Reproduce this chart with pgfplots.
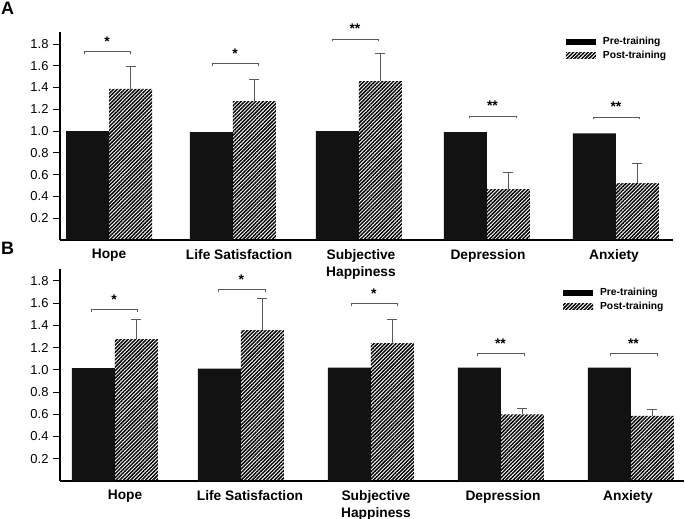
\documentclass[border=0pt]{standalone}
\usepackage{pgfplots}
\pgfplotsset{compat=1.18}
\usepackage{fontspec}
\setmainfont{Liberation Sans}
\usetikzlibrary{patterns.meta}
\definecolor{eb}{gray}{0.35}
\tikzset{hatch/.style={pattern={Lines[angle=45,distance=2.6bp,line width=1.45bp]}, pattern color=black}}
\pgfplotsset{
  panel/.style={
    scale only axis, clip=false,
    axis lines=left, axis line style={-, line width=1.2bp, black},
    ybar=0pt, bar width=43bp, ymin=0,
    ytick={0.2,0.4,0.6,0.8,1.0,1.2,1.4,1.6,1.8},
    /pgf/number format/assume math mode=true,
    yticklabel style={font=\fontsize{13}{15}\selectfont, xshift=-1bp,
      /pgf/number format/.cd, fixed, fixed zerofill, precision=1},
    tick align=outside, major tick length=7bp,
    ytick style={black, line width=0.8bp},
    xtick style={draw=none},
    xticklabel style={font=\fontsize{13.8}{17}\selectfont\bfseries, align=center, yshift=1bp},
    xticklabels={Hope, Life Satisfaction, Subjective\\Happiness, Depression, Anxiety},
    legend style={draw=none, fill=none, font=\fontsize{10.3}{12}\selectfont\bfseries,
      anchor=north west, inner sep=0pt, row sep=1bp, legend cell align=left},
  },
  prebar/.style={fill=black!93, draw=none,
    legend image code/.code={\fill[black] (0bp,-3bp) rectangle (30bp,3bp); \path (35bp,0bp);}},
  postbar/.style={hatch, draw=none,
    legend image code/.code={\fill[hatch] (0bp,-3bp) rectangle (30bp,3bp); \path (35bp,0bp);},
    error bars/.cd, y dir=plus, y explicit,
    error bar style={draw=eb, line width=0.9bp},
    error mark=-,
    error mark options={draw=eb, line width=0.9bp, mark size=5bp, rotate=90}},
}
\newcommand{\sig}[4]{% x1, x2, y, stars
  \draw[eb, line width=0.8bp] ([yshift=-2.5bp]axis cs:#1,#3) -- (axis cs:#1,#3) -- (axis cs:#2,#3) -- ([yshift=-2.5bp]axis cs:#2,#3);
  \node[anchor=base, inner sep=0pt, font=\fontsize{14}{16}\selectfont\bfseries, yshift=5bp] at (axis cs:{(#1+#2)/2},#3) {#4};}
\begin{document}
\begin{tikzpicture}
\useasboundingbox (0,0) rectangle (685bp,-519bp);
\node[anchor=north west, inner sep=0pt, font=\fontsize{18}{20}\selectfont\bfseries] at (1bp,-2bp) {A};
\node[anchor=north west, inner sep=0pt, font=\fontsize{18}{20}\selectfont\bfseries] at (1bp,-242bp) {B};
% Panel A
\begin{axis}[panel, at={(60bp,-240bp)}, anchor=south west,
  width=613bp, height=208bp, xmin=-0.387, xmax=4.45, ymax=1.91,
  xtick={0,1.026,1.988,2.99,3.984},
  legend style={at={(0.825,0.985)}}]
\addplot[prebar] coordinates {(0,1.00) (0.978,0.99) (1.972,1.00) (2.982,0.99) (4.0,0.98)};
\addplot[postbar] coordinates {(0,1.387) +- (0,0.203) (0.978,1.276) +- (0,0.194) (1.972,1.46) +- (0,0.25) (2.982,0.468) +- (0,0.156) (4.0,0.523) +- (0,0.184)};
\legend{Pre-training, Post-training}
\sig{-0.197}{0.166}{1.735}{*}
\sig{0.813}{1.176}{1.625}{*}
\sig{1.759}{2.122}{1.846}{**}
\sig{2.840}{3.211}{1.139}{**}
\sig{3.819}{4.181}{1.13}{**}
\end{axis}
% Panel B
\begin{axis}[panel, at={(60bp,-481bp)}, anchor=south west,
  width=624bp, height=212bp, xmin=-0.426, xmax=4.411, ymax=1.906,
  xtick={0.078,1.047,2.023,3.008,3.977},
  legend style={at={(0.806,0.92)}}]
\addplot[prebar] coordinates {(0,1.015) (0.977,1.01) (1.984,1.02) (2.992,1.02) (4.0,1.02)};
\addplot[postbar] coordinates {(0,1.276) +- (0,0.18) (0.977,1.357) +- (0,0.288) (1.984,1.24) +- (0,0.216) (2.992,0.60) +- (0,0.056) (4.0,0.585) +- (0,0.055)};
\legend{Pre-training, Post-training}
\sig{-0.186}{0.171}{1.546}{*}
\sig{0.798}{1.163}{1.726}{*}
\sig{1.829}{2.186}{1.60}{*}
\sig{2.806}{3.171}{1.15}{**}
\sig{3.837}{4.202}{1.15}{**}
\end{axis}
\end{tikzpicture}
\end{document}
